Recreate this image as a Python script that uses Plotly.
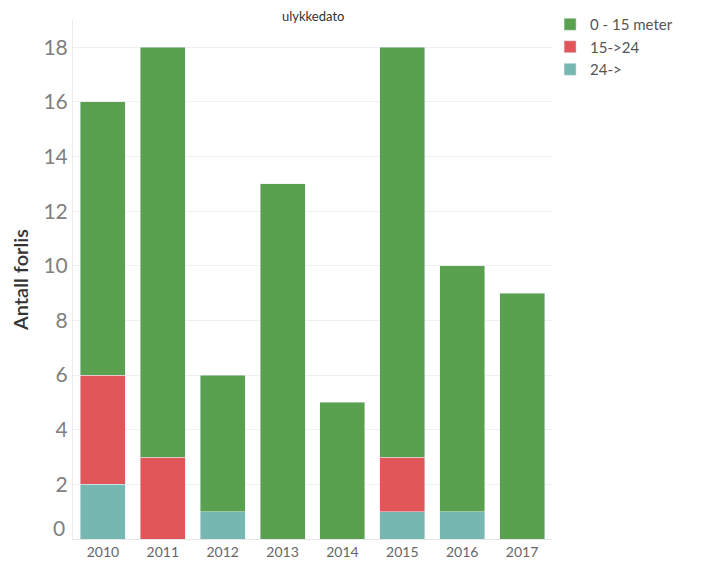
import plotly.graph_objects as go

years = ["2010", "2011", "2012", "2013", "2014", "2015", "2016", "2017"]
s24 = [2, 0, 1, 0, 0, 1, 1, 0]
s15_24 = [4, 3, 0, 0, 0, 2, 0, 0]
s0_15 = [10, 15, 5, 13, 5, 15, 9, 9]
yticks = [0, 2, 4, 6, 8, 10, 12, 14, 16, 18]
ytick_text = ["" if v == 0 else str(v) for v in yticks]

fig = go.Figure()
fig.add_trace(go.Bar(x=years, y=s24, name="24->", marker_color="#76B7B2"))
fig.add_trace(go.Bar(x=years, y=s15_24, name="15->24", marker_color="#E15759"))
fig.add_trace(go.Bar(x=years, y=s0_15, name="0 - 15 meter", marker_color="#59A14F"))

# page body has an 8px margin, so the figure is 8px smaller and margins shifted
fig.update_layout(
    width=695, height=556,
    barmode="stack", bargap=0.25,
    margin=dict(l=65, r=151, t=12, b=25, autoexpand=False),
    plot_bgcolor="white", paper_bgcolor="white",
    font=dict(family="Lato, Open Sans, sans-serif", color="#555"),
    showlegend=True,
    legend=dict(x=0.996, xanchor="left", y=1.0, yanchor="top",
                xref="paper", yref="container",
                traceorder="reversed", font=dict(size=15, color="#555"),
                itemwidth=30, tracegroupgap=0, bgcolor="rgba(0,0,0,0)"),
    annotations=[
        dict(text="ulykkedato", x=0.5, xref="paper", y=1.0, yref="paper",
             yanchor="middle", yshift=4, showarrow=False, font=dict(size=13, color="#333")),
        dict(text=str(yticks[0]), x=0, xref="paper", y=yticks[0], yref="y",
             xanchor="right", yanchor="middle", xshift=-6, yshift=12, showarrow=False,
             font=dict(size=21, color="#808080")),
    ],
)
fig.update_xaxes(showgrid=False, showline=True, linecolor="#e6e6e6",
                 tickfont=dict(size=14, color="#666"), ticks="")
fig.update_yaxes(range=[0, 19], tickvals=yticks, ticktext=ytick_text,
                 showgrid=True, gridcolor="#f0f0f0",
                 zeroline=False, showline=True, linecolor="#ececec",
                 tickfont=dict(size=21, color="#808080"), ticks="",
                 title=dict(text="Antall forlis", font=dict(size=20, color="#333", weight=600), standoff=12))
fig.write_html("out.html")
